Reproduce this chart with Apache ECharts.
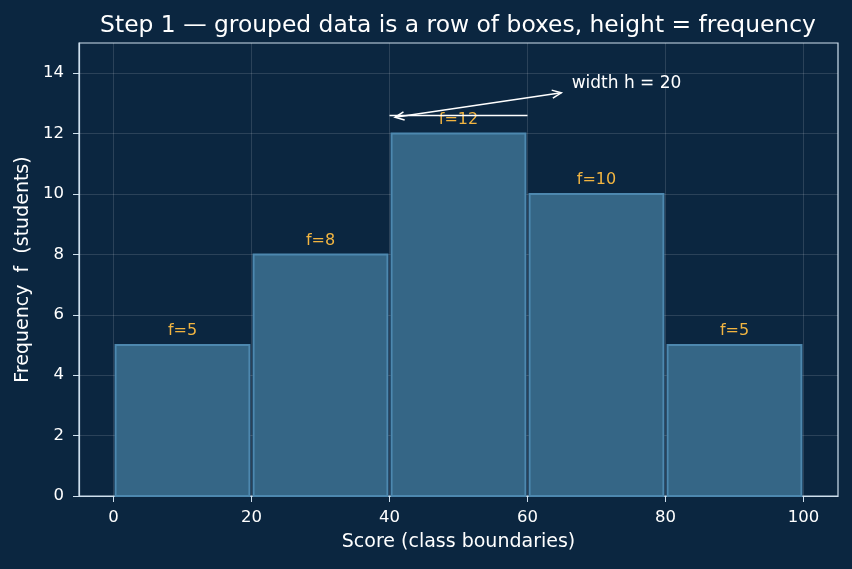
<!DOCTYPE html>
<html><head><meta charset="utf-8">
<script src="https://cdn.jsdelivr.net/npm/echarts@6/dist/echarts.min.js"></script>
<style>html,body{margin:0;padding:0;background:#0b2640;}#c{width:852px;height:569px;}</style>
</head><body><div id="c"></div>
<script>
const classLows = [0, 20, 40, 60, 80];
const classHighs = [20, 40, 60, 80, 100];
const frequencies = [5, 8, 12, 10, 5];
const xTicks = [0, 20, 40, 60, 80, 100];
const yTicks = [0, 2, 4, 6, 8, 10, 12, 14];
const widthLine = [[40, 12.6], [60, 12.6]];
const arrowEnds = [[40.8, 12.54], [64.9, 13.35]];
const annoText = 'width h = 20';
const annoPos = [66.4, 13.67];

const chart = echarts.init(document.getElementById('c'));
const barData = classLows.map((lo, i) => [lo, classHighs[i], frequencies[i]]);
const F = 'DejaVu Sans';
const spine = '#cfe0ee';
const gridC = 'rgba(255,255,255,0.17)';
chart.setOption({
  backgroundColor: '#0b2640',
  animation: false,
  title: { text: 'Step 1 — grouped data is a row of boxes, height = frequency', left: 453, top: 9, textAlign: 'center',
    textStyle: { color: '#ffffff', fontFamily: F, fontSize: 23.4, fontWeight: 'normal' } },
  grid: { left: 79, right: 14, top: 43, bottom: 73, show: true, borderColor: spine, borderWidth: 1.2 },
  xAxis: { type: 'value', min: -5, max: 105,
    name: 'Score (class boundaries)', nameLocation: 'middle', nameGap: 37,
    nameTextStyle: { color: '#ffffff', fontFamily: F, fontSize: 19 },
    axisLine: { show: true, onZero: false, lineStyle: { color: spine, width: 1.2 } },
    axisTick: { show: true, customValues: xTicks, length: 6, lineStyle: { color: spine } },
    axisLabel: { customValues: xTicks, color: '#ffffff', fontFamily: F, fontSize: 16.5, margin: 13 },
    splitLine: { show: true, lineStyle: { color: gridC, width: 0.8 } } },
  yAxis: { type: 'value', min: 0, max: 15,
    name: 'Frequency  f  (students)', nameLocation: 'middle', nameGap: 46,
    nameTextStyle: { color: '#ffffff', fontFamily: F, fontSize: 19 },
    axisLine: { show: true, onZero: false, lineStyle: { color: spine, width: 1.2 } },
    axisTick: { show: true, customValues: yTicks, length: 6, lineStyle: { color: spine } },
    axisLabel: { customValues: yTicks, color: '#ffffff', fontFamily: F, fontSize: 16.5, margin: 15 },
    splitLine: { show: true, lineStyle: { color: gridC, width: 0.8 } } },
  series: [
    { type: 'custom', data: barData, z: 2,
      renderItem: (params, api) => {
        const lo = api.value(0), hi = api.value(1), f = api.value(2);
        const p0 = api.coord([lo + 0.3, 0]);
        const p1 = api.coord([hi - 0.3, f]);
        const lab = api.coord([(lo + hi) / 2, f]);
        return { type: 'group', children: [
          { type: 'rect', shape: { x: p0[0], y: p1[1], width: p1[0] - p0[0], height: p0[1] - p1[1] },
            style: { fill: '#356686', stroke: '#4d88af', lineWidth: 2 } },
          { type: 'text', x: lab[0], y: lab[1] - 6,
            style: { text: 'f=' + f, fill: '#f2b541', font: '16px DejaVu Sans', align: 'center', verticalAlign: 'bottom' } }
        ]};
      } },
    { type: 'line', data: widthLine, symbol: 'none', z: 5,
      lineStyle: { color: '#ffffff', width: 1.6 } },
    { type: 'custom', data: [0], z: 6,
      renderItem: (params, api) => {
        const a = api.coord(arrowEnds[0]), b = api.coord(arrowEnds[1]);
        const t = api.coord(annoPos);
        const head = (tip, from) => {
          const ang = Math.atan2(tip[1] - from[1], tip[0] - from[0]);
          const L = 10, w = 0.42;
          return { type: 'polyline', shape: { points: [
            [tip[0] - L * Math.cos(ang - w), tip[1] - L * Math.sin(ang - w)], tip,
            [tip[0] - L * Math.cos(ang + w), tip[1] - L * Math.sin(ang + w)]] },
            style: { stroke: '#ffffff', lineWidth: 1.5, fill: 'none' } };
        };
        return { type: 'group', children: [
          { type: 'line', shape: { x1: a[0], y1: a[1], x2: b[0], y2: b[1] }, style: { stroke: '#ffffff', lineWidth: 1.5 } },
          head(a, b), head(b, a),
          { type: 'text', x: t[0], y: t[1], style: { text: annoText, fill: '#ffffff', font: '17px DejaVu Sans', align: 'left', verticalAlign: 'middle' } }
        ]};
      } }
  ]
});
</script></body></html>
